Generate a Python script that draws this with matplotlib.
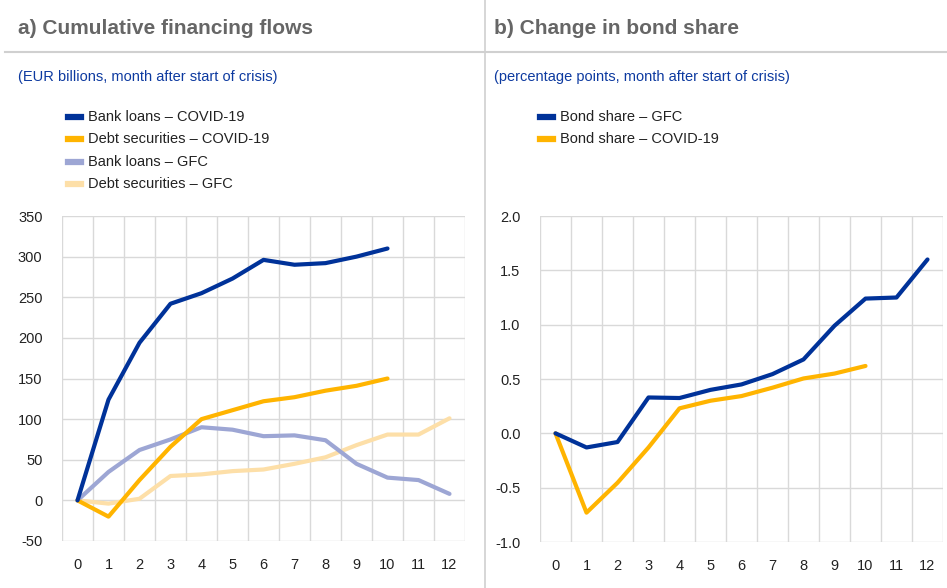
import matplotlib.pyplot as plt
from matplotlib.lines import Line2D

months = list(range(13))
month_labels = [str(m) for m in months]

# panel a) EUR billions
bank_loans_covid = [0, 124, 194, 242, 255, 273, 296, 290, 292, 300, 310]
debt_sec_covid = [0, -20, 25, 66, 100, 111, 122, 127, 135, 141, 150]
bank_loans_gfc = [0, 35, 62, 75, 90, 87, 79, 80, 74, 45, 28, 25, 8]
debt_sec_gfc = [0, -4, 2, 30, 32, 36, 38, 45, 53, 68, 81, 81, 101]

# panel b) percentage points
bond_share_gfc = [0, -0.13, -0.08, 0.33, 0.325, 0.40, 0.45, 0.545, 0.68, 0.99, 1.24, 1.25, 1.60]
bond_share_covid = [0, -0.73, -0.455, -0.13, 0.23, 0.30, 0.343, 0.42, 0.505, 0.55, 0.62]

DARK_BLUE = '#003299'
YELLOW = '#FFB400'
LIGHT_BLUE = '#9DA6D4'
LIGHT_YELLOW = '#FDDFA8'
GRID = '#D9D9D9'
TITLE_GRAY = '#666666'
SUB_BLUE = '#0D3AA0'

plt.rcParams['font.family'] = ['Liberation Sans', 'DejaVu Sans']

W, H = 947, 588
fig = plt.figure(figsize=(W / 100, H / 100), dpi=100)


def px_axes(x0, y_top, x1, y_bot):
    return fig.add_axes([x0 / W, 1 - y_bot / H, (x1 - x0) / W, (y_bot - y_top) / H])


def style(ax, ylim, yticks, fmt):
    ax.set_xlim(-0.5, 12.5)
    ax.set_ylim(*ylim)
    ax.set_xticks(months)
    ax.set_xticklabels(month_labels)
    ax.set_xticks([m - 0.5 for m in months] + [12.5], minor=True)
    ax.set_yticks(yticks)
    ax.set_yticklabels([fmt.format(v) for v in yticks])
    ax.grid(True, which='minor', axis='x', color=GRID, lw=1)
    ax.grid(True, which='major', axis='y', color=GRID, lw=1)
    ax.tick_params(which='both', length=0, labelsize=10.5, colors='#222222')
    ax.tick_params(axis='x', pad=12)
    ax.tick_params(axis='y', pad=14)
    for s in ax.spines.values():
        s.set_visible(False)
    ax.set_axisbelow(True)


lw = 3.0

ax1 = px_axes(62, 216, 465, 541)
style(ax1, (-50, 350), list(range(-50, 351, 50)), '{:d}')
ax1.plot(months[:len(debt_sec_gfc)], debt_sec_gfc, color=LIGHT_YELLOW, lw=lw, solid_capstyle='round')
ax1.plot(months[:len(bank_loans_gfc)], bank_loans_gfc, color=LIGHT_BLUE, lw=lw, solid_capstyle='round')
ax1.plot(months[:len(debt_sec_covid)], debt_sec_covid, color=YELLOW, lw=lw, solid_capstyle='round')
ax1.plot(months[:len(bank_loans_covid)], bank_loans_covid, color=DARK_BLUE, lw=lw, solid_capstyle='round')

ax2 = px_axes(540, 216, 943, 542)
style(ax2, (-1.0, 2.0), [-1.0, -0.5, 0.0, 0.5, 1.0, 1.5, 2.0], '{:.1f}')
ax2.plot(months[:len(bond_share_covid)], bond_share_covid, color=YELLOW, lw=lw, solid_capstyle='round')
ax2.plot(months[:len(bond_share_gfc)], bond_share_gfc, color=DARK_BLUE, lw=lw, solid_capstyle='round')

# header
fig.add_artist(Line2D([5 / W, 1], [1 - 52 / H] * 2, color='#D0D0D0', lw=1.5))
fig.add_artist(Line2D([485 / W] * 2, [0, 1], color='#D0D0D0', lw=1.2))
fig.text(18 / W, 1 - 28 / H, 'a) Cumulative financing flows', fontsize=15, fontweight='bold',
         color=TITLE_GRAY, va='center')
fig.text(494 / W, 1 - 28 / H, 'b) Change in bond share', fontsize=15, fontweight='bold',
         color=TITLE_GRAY, va='center')
fig.text(18 / W, 1 - 77 / H, '(EUR billions, month after start of crisis)', fontsize=10.5,
         color=SUB_BLUE, va='center')
fig.text(494 / W, 1 - 77 / H, '(percentage points, month after start of crisis)', fontsize=10.5,
         color=SUB_BLUE, va='center')

# legends
leg_a = [('Bank loans – COVID-19', DARK_BLUE), ('Debt securities – COVID-19', YELLOW),
         ('Bank loans – GFC', LIGHT_BLUE), ('Debt securities – GFC', LIGHT_YELLOW)]
leg_b = [('Bond share – GFC', DARK_BLUE), ('Bond share – COVID-19', YELLOW)]
for x0, items in ((68, leg_a), (540, leg_b)):
    for i, (lab, col) in enumerate(items):
        y = 1 - (117 + 22.3 * i) / H
        fig.add_artist(Line2D([x0 / W, (x0 + 13) / W], [y, y], color=col, lw=4.5))
        fig.text((x0 + 20) / W, y, lab, fontsize=10.5, color='#222222', va='center')

fig.savefig('out.png', dpi=100)
